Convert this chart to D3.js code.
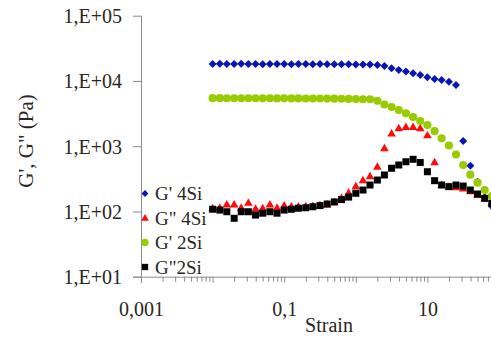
<!DOCTYPE html>
<html>
<head>
<meta charset="utf-8">
<script src="https://cdn.jsdelivr.net/npm/d3@7"></script>
<style>
  html, body { margin: 0; padding: 0; background: #fff; }
  svg { display: block; }
</style>
</head>
<body>
<svg id="chart" width="491" height="337"></svg>
<script>
// Strain sweep (10 points per decade)
const strain = [
  0.0100, 0.0126, 0.0158, 0.0200, 0.0251, 0.0316, 0.0398, 0.0501, 0.0631, 0.0794,
  0.100, 0.126, 0.158, 0.200, 0.251, 0.316, 0.398, 0.501, 0.631, 0.794,
  1.00, 1.26, 1.58, 2.00, 2.51, 3.16, 3.98, 5.01, 6.31, 7.94,
  10.0, 12.6, 15.8, 20.0, 25.1, 31.6, 39.8, 50.1, 63.1, 79.4
];

// Storage / loss moduli (Pa)
const gp4Si = [
  18200, 18300, 18200, 18200, 18300, 18200, 18200, 18100, 18200, 18200,
  18200, 18100, 18200, 18200, 18100, 18200, 18100, 18100, 18000, 18000,
  17900, 17900, 17800, 17500, 16900, 15600, 14700, 13900, 13100, 12300,
  11400, 10700, 10300, 9700, 8700, 1200, 500, 285, 165, 120
];
const gpp4Si = [
  110, 112, 126, 126, 112, 133, 108, 110, 126, 112,
  121, 117, 117, 118, 119, 122, 126, 136, 158, 190,
  239, 296, 341, 475, 912, 1540, 1850, 1940, 1940, 1850,
  1440, 558, 250, 235, 230, 220, 200, 175, 155, 135
];
const gp2Si = [
  5450, 5450, 5420, 5420, 5430, 5420, 5420, 5410, 5420, 5400,
  5410, 5400, 5400, 5390, 5380, 5380, 5370, 5350, 5330, 5300,
  5270, 5250, 5240, 4980, 4350, 3990, 3590, 3190, 2800, 2430,
  2110, 1700, 1320, 1025, 747, 515, 366, 276, 213, 173
];
const gpp2Si = [
  108, 105, 99, 78.5, 99, 99, 88, 94, 99, 94,
  105, 108, 112, 114, 118, 123, 130, 140, 152, 166,
  190, 213, 254, 303, 362, 459, 515, 578, 630, 562,
  406, 296, 254, 240, 254, 245, 213, 185, 159, 133
];

const seriesNames = ["G' 4Si", "G\" 4Si", "G' 2Si", "G\"2Si"];
const seriesColors = ["#0a14b4", "#ff0a0a", "#99cc00", "#000000"];
const seriesShapes = ["diamond", "triangle", "circle", "square"];
const seriesValues = [gp4Si, gpp4Si, gp2Si, gpp2Si];

const xMajorTicks = [0.001, 0.01, 0.1, 1, 10, 100];
const xTickLabels = { 0.001: "0,001", 0.1: "0,1", 10: "10" };
const yTicks = [10, 100, 1000, 10000, 100000];
const yTickLabels = ["1,E+01", "1,E+02", "1,E+03", "1,E+04", "1,E+05"];

const svg = d3.select("#chart");
const axisColor = "#8a8a8a";
const textColor = "#2a2522";
const serif = '"Liberation Serif", "Times New Roman", serif';

// log axes: 0.001 .. 100 over five decades, the right end runs past the frame
const x0 = 141, decade = 71.6;
const x = d3.scaleLog().domain([0.001, 100]).range([x0, x0 + 5 * decade]);
const y = d3.scaleLog().domain([10, 100000]).range([276.7, 15.7]);

// minor ticks 2..9 in each decade
const xMinorTicks = [];
for (let e = -3; e <= 1; e++) {
  for (let k = 2; k <= 9; k++) xMinorTicks.push(k * Math.pow(10, e));
}

// x axis: minor ticks
svg.append("g")
  .attr("transform", `translate(0,${y(10)})`)
  .call(d3.axisBottom(x).tickValues(xMinorTicks).tickSize(5).tickFormat(""))
  .call(g => g.select(".domain").remove())
  .call(g => g.selectAll("line").attr("stroke", axisColor));

// x axis: major ticks and labels
const xAxisG = svg.append("g")
  .attr("transform", `translate(0,${y(10)})`)
  .call(d3.axisBottom(x).tickValues(xMajorTicks).tickSize(6)
    .tickFormat(d => xTickLabels[d] || ""));
xAxisG.select(".domain").attr("d", `M${x0 - 8},0.5H491`).attr("stroke", axisColor);
xAxisG.selectAll("line").attr("stroke", axisColor);
xAxisG.selectAll("text")
  .attr("y", 39).attr("dy", null)
  .style("font-family", serif).style("font-size", "20px")
  .attr("fill", textColor);

// y axis
const yAxisG = svg.append("g")
  .attr("transform", `translate(${x0},0)`)
  .call(d3.axisLeft(y).tickValues(yTicks).tickSize(8).tickPadding(11)
    .tickFormat((d, i) => yTickLabels[i]));
yAxisG.select(".domain").attr("d", `M0.5,${y(100000)}V${y(10) + 6}`).attr("stroke", axisColor);
yAxisG.selectAll("line").attr("stroke", axisColor);
yAxisG.selectAll("text")
  .attr("dy", 7)
  .style("font-family", serif).style("font-size", "20px")
  .attr("fill", textColor);

// axis titles
svg.append("text")
  .attr("x", 329).attr("y", 332)
  .attr("text-anchor", "middle")
  .style("font-family", serif).style("font-size", "20px")
  .attr("fill", textColor)
  .text("Strain");

svg.append("text")
  .attr("transform", "translate(33,141) rotate(-90)")
  .attr("text-anchor", "middle")
  .style("font-family", serif).style("font-size", "21px")
  .attr("fill", textColor)
  .text("G', G\" (Pa)");

// marker path generator
function markerPath(shape) {
  if (shape === "diamond") return "M0,-4L4,0L0,4L-4,0Z";
  if (shape === "triangle") return d3.symbol(d3.symbolTriangle, 32)();
  if (shape === "circle") return d3.symbol(d3.symbolCircle, 52)();
  return d3.symbol(d3.symbolSquare, 49)();
}

// data points, clipped to the frame on the right
seriesValues.forEach((vals, s) => {
  svg.append("g")
    .selectAll("path")
    .data(vals.map((v, i) => ({ s: strain[i], v })))
    .join("path")
    .attr("d", markerPath(seriesShapes[s]))
    .attr("transform", d => `translate(${x(d.s)},${y(d.v)})`)
    .attr("fill", seriesColors[s]);
});

// legend
const legendRows = [193.5, 218.5, 242.5, 267];
const legend = svg.append("g");
seriesNames.forEach((name, s) => {
  const row = legend.append("g").attr("transform", `translate(145,${legendRows[s]})`);
  row.append("path").attr("d", markerPath(seriesShapes[s]))
    .attr("transform", s === 0 ? "scale(0.85)" : "scale(0.9)")
    .attr("fill", seriesColors[s]);
  row.append("text")
    .attr("x", 10).attr("y", 6.5)
    .style("font-family", serif).style("font-size", "19px")
    .attr("fill", textColor)
    .text(name);
});
</script>
</body>
</html>
